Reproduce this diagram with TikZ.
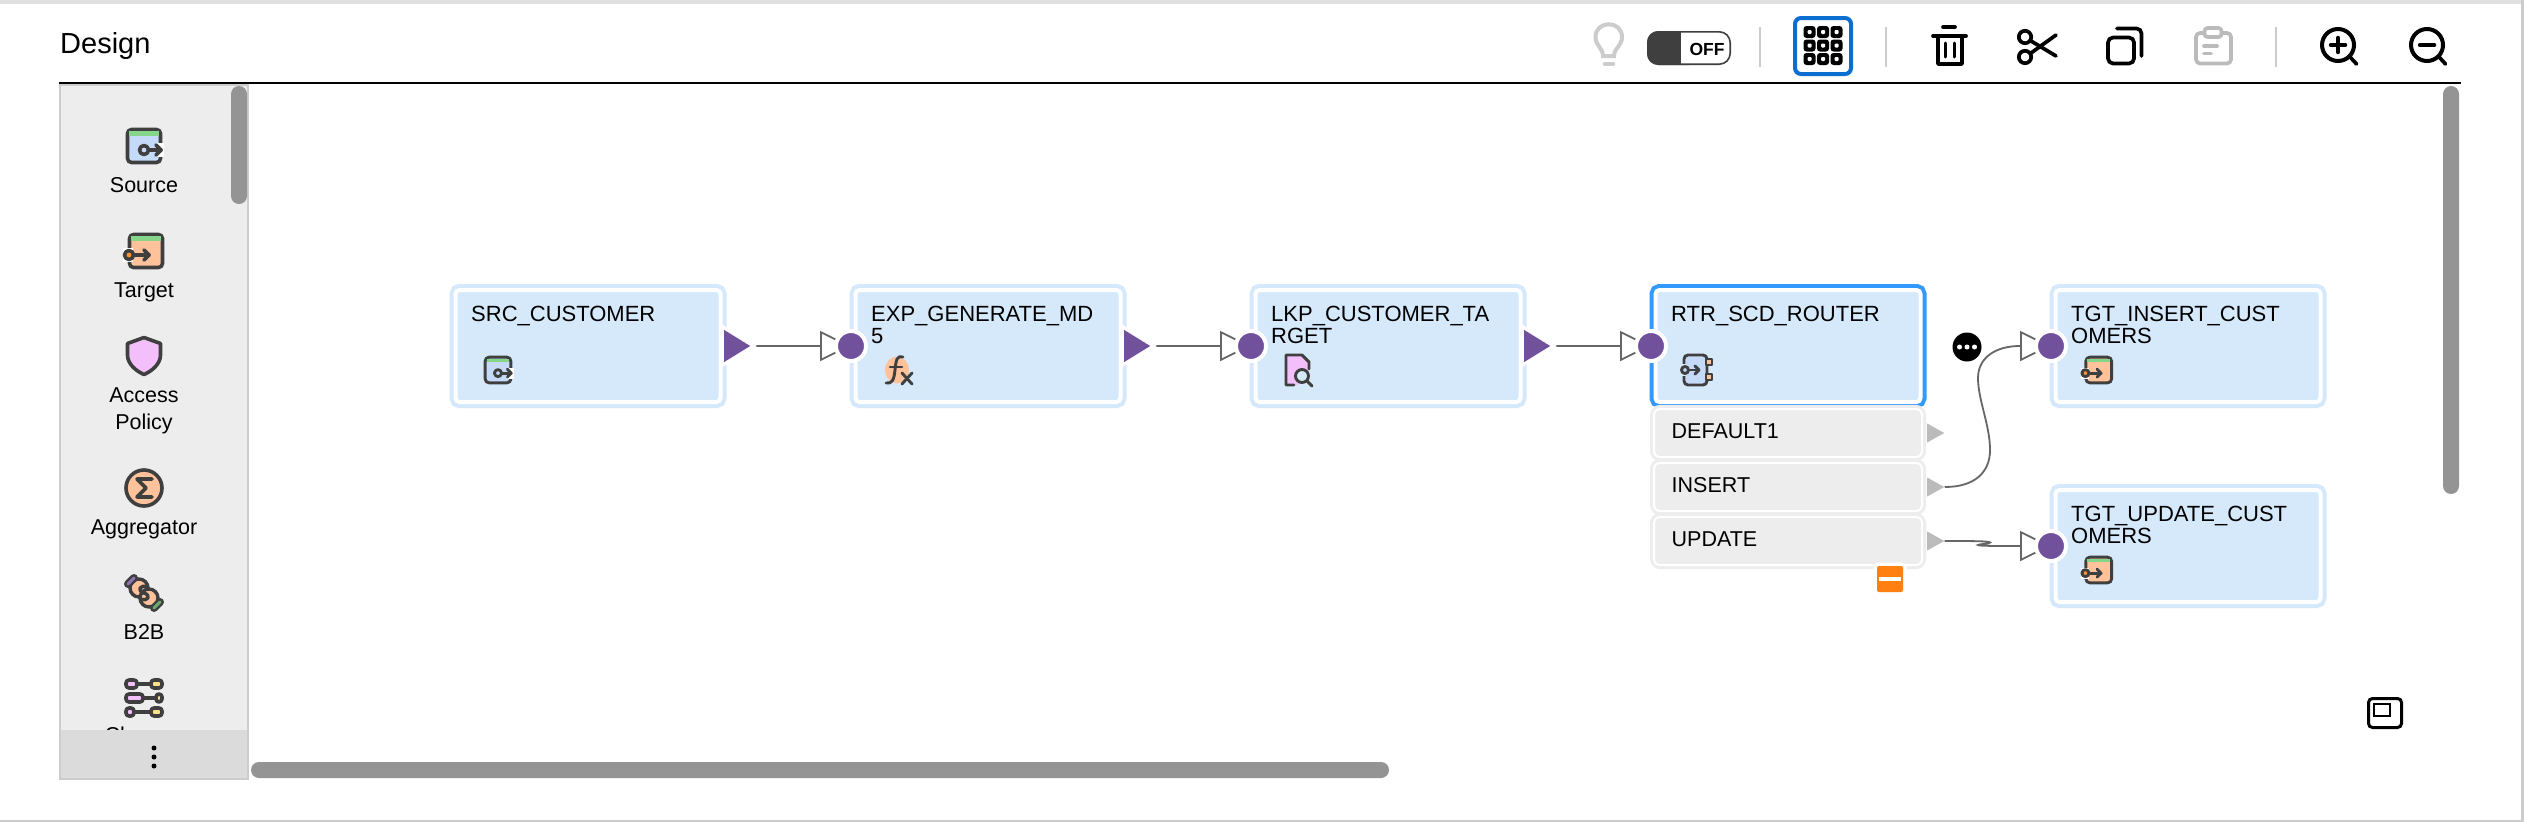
\documentclass[tikz,border=0pt]{standalone}
\usepackage{fontspec}
\setmainfont{Liberation Sans}
\usetikzlibrary{arrows.meta, backgrounds, shapes.geometric}

\definecolor{boxblue}{HTML}{D5E9FB}
\definecolor{selblue}{HTML}{3399FF}
\definecolor{btnblue}{HTML}{0A6FD0}
\definecolor{portpurple}{HTML}{71519C}
\definecolor{rowgray}{HTML}{EDEDED}
\definecolor{portgray}{HTML}{BBBBBB}
\definecolor{wiregray}{HTML}{666666}
\definecolor{scrollgray}{HTML}{949494}
\definecolor{icondark}{HTML}{3F3F3F}
\definecolor{iconblue}{HTML}{C5DAF9}
\definecolor{iconpeach}{HTML}{FFC29B}
\definecolor{icongreen}{HTML}{85D68B}
\definecolor{iconpink}{HTML}{F2BFFA}
\definecolor{iconyellow}{HTML}{FFE08A}
\definecolor{minusorange}{HTML}{FF8010}

\tikzset{
  iconwidth/.store in=\iconlw, iconwidth=3.5pt,
  nodebox/.style={rectangle, draw=white, line width=4pt, fill=boxblue, rounded corners=4pt,
    minimum width=265pt, minimum height=112pt, inner sep=0pt, preaction={draw=#1, line width=12pt}},
  nodebox/.default=boxblue,
  rowbox/.style={rectangle, draw=white, line width=2pt, fill=rowgray, rounded corners=6pt,
    minimum width=268pt, minimum height=48pt, inner sep=0pt, preaction={draw=rowgray, line width=8pt}},
  boxlabel/.style={anchor=north west, align=left, inner sep=0pt, font=\fontsize{22pt}{22pt}\selectfont},
  rowlabel/.style={anchor=base west, inner sep=0pt, font=\fontsize{21.5pt}{22pt}\selectfont},
  panellabel/.style={anchor=north, align=center, inner sep=0pt, font=\fontsize{21.5pt}{27pt}\selectfont},
  portin/.style={circle, fill=portpurple, draw=white, line width=4pt, minimum size=30pt, inner sep=0pt},
  portout/.style={isosceles triangle, isosceles triangle stretches, shape border rotate=0, anchor=lower side,
    minimum width=32pt, minimum height=26pt, inner sep=0pt, fill=portpurple, preaction={draw=white, line width=7pt}},
  portrow/.style={isosceles triangle, isosceles triangle stretches, shape border rotate=0, anchor=lower side,
    minimum width=19pt, minimum height=17pt, inner sep=0pt, fill=portgray},
  wire/.style={draw=wiregray, line width=1.8pt, shorten <=5pt, -{Triangle[open, fill=white, length=31pt, width=30pt]}},
  iconline/.style={draw=icondark, line width=\iconlw, line join=round, line cap=round},
  toolline/.style={draw=black, line width=3.7pt, line join=round, line cap=round},
  toolgray/.style={draw=portgray, line width=3.7pt, line join=round, line cap=round},
  srcicon/.pic={
    \draw[iconline, fill=iconblue, rounded corners=4pt] (-16.5,-16.5) rectangle (16.5,16.5);
    \fill[icongreen] (-14.7,-14.7) rectangle (14.7,-10.4);
    \fill[white] (13,-3) rectangle (20,11);
    \draw[iconline] (5,4) -- (17,4);
    \draw[iconline] (12,-1) -- (17,4) -- (12,9);
    \draw[iconline, fill=iconblue] (0,4) circle (4.5);
  },
  tgticon/.pic={
    \draw[iconline, fill=iconpeach, rounded corners=4pt] (-16.5,-16.5) rectangle (16.5,16.5);
    \fill[icongreen] (-14.7,-14.7) rectangle (14.7,-10.4);
    \fill[white] (-23,-3) rectangle (-13,11);
    \draw[iconline] (-12,4) -- (3,4);
    \draw[iconline] (-2,-1) -- (3,4) -- (-2,9);
    \draw[iconline, fill=orange!70!iconpeach] (-17,4) circle (4.5);
  },
  fxicon/.pic={
    \fill[iconpeach] (-1,0) ellipse (12 and 13.5);
    \draw[iconline] (5,-13) .. controls (-1,-15) and (-2,-10) .. (-3,0) .. controls (-4,10) and (-6,14) .. (-12,13);
    \draw[iconline] (-8,-3) -- (4,-3);
    \draw[iconline] (4,3) -- (14,14);
    \draw[iconline] (14,3) -- (4,14);
  },
  lkpicon/.pic={
    \fill[iconpink] (-12,-15) -- (4,-15) -- (11,-8) -- (11,0) -- (0,15) -- (-12,15) -- cycle;
    \draw[iconline] (-4,15) -- (-12,15) -- (-12,-15) -- (4,-15) -- (11,-8) -- (11,-1);
    \draw[iconline, fill=boxblue] (4,6) circle (6.5);
    \draw[iconline] (9,11) -- (14,16);
  },
  rtricon/.pic={
    \draw[iconline, fill=iconblue, rounded corners=4pt] (-13,-15) rectangle (10,15);
    \fill[boxblue] (-18,-6) rectangle (-11,6);
    \draw[iconline, fill=iconpeach] (9,-11) rectangle (15,-5);
    \draw[iconline, fill=iconpeach] (9,4) rectangle (15,10);
    \draw[iconline] (-8,0) -- (2,0);
    \draw[iconline] (-2,-4) -- (2,0) -- (-2,4);
    \draw[iconline, fill=iconblue] (-12,0) circle (3.5);
  },
  shieldicon/.pic={
    \draw[iconline, fill=iconpink] (0,-18.5) -- (16.5,-12.5) -- (16.5,-1) .. controls (16.5,8) and (8,15) .. (0,18.5)
      .. controls (-8,15) and (-16.5,8) .. (-16.5,-1) -- (-16.5,-12.5) -- cycle;
  },
  aggicon/.pic={
    \draw[iconline, fill=iconpeach] (0,0) circle (18);
    \draw[iconline] (8,-9) -- (-7,-9) -- (2,0) -- (-7,9) -- (8,9);
  },
  b2bicon/.pic={
    \draw[iconline, fill=iconpeach] (-5,-5) circle (9);
    \draw[iconline, fill=iconpeach] (5,5) circle (9);
    \draw[iconline] (4,-6) .. controls (-5,-9) and (-7,-2) .. (0,0) .. controls (7,2) and (5,9) .. (-4,6);
    \draw[icondark, line width=8pt, line cap=round] (-16,-9) -- (-10,-15);
    \draw[icondark, line width=8pt, line cap=round] (10,15) -- (16,9);
    \draw[portpurple!80!white, line width=3pt, line cap=round] (-16,-9) -- (-10,-15);
    \draw[icongreen!80!black, line width=3pt, line cap=round] (10,15) -- (16,9);
  },
  chainicon/.pic={
    \draw[iconline] (-14,-14) -- (14,-14);
    \draw[iconline] (-14,0) -- (14,0);
    \draw[iconline] (-14,14) -- (14,14);
    \draw[iconline, fill=iconpink, rounded corners=3pt] (-18,-18) rectangle (-7,-10);
    \draw[iconline, fill=iconyellow, rounded corners=3pt] (7,-18) rectangle (18,-10);
    \draw[iconline, fill=iconpink, rounded corners=3pt] (-18,-4) rectangle (-1,4);
    \draw[iconline, fill=iconyellow, rounded corners=3pt] (12,-4) rectangle (18,4);
    \draw[iconline, fill=iconpink, rounded corners=3pt] (-18,10) rectangle (-10,18);
    \draw[iconline, fill=iconyellow, rounded corners=3pt] (7,10) rectangle (18,18);
  },
}

\begin{document}
\begin{tikzpicture}[x=1pt,y=-1pt]
\useasboundingbox (0,0) rectangle (2524,822);

% Page edges
\fill[black!12] (0,0) rectangle (2524,3.5);
\fill[black!20] (0,820) rectangle (2524,822);
\fill[black!20] (2520.5,0) rectangle (2524,822);

% Header
\node[anchor=base west, inner sep=0pt, font=\fontsize{29pt}{30pt}\selectfont] (design) at (60,53) {Design};
\draw[line width=2pt] (59,83) -- (2461,83);

% Scrollbars
\fill[scrollgray, rounded corners=8pt] (251,762) rectangle (1389,778);
\fill[scrollgray, rounded corners=8pt] (2443,86) rectangle (2459,494);

% Palette
\draw[draw=black!20, fill=rowgray, line width=2pt] (60,85) rectangle (248,779);
\fill[scrollgray, rounded corners=8pt] (231,86) rectangle (247,204);
\pic[iconwidth=3.6pt] at (144,146) {srcicon};
\node[panellabel] (source) at (144,177) {Source};
\pic[iconwidth=3.6pt] at (146,251) {tgticon};
\node[panellabel] (target) at (144,283) {Target};
\pic[iconwidth=3.6pt] at (144,356) {shieldicon};
\node[panellabel] (access) at (144,388) {Access\\Policy};
\pic[iconwidth=3.6pt] at (144,488) {aggicon};
\node[panellabel] (aggregator) at (144,519) {Aggregator};
\pic[iconwidth=3.4pt] at (144,593) {b2bicon};
\node[panellabel] (btob) at (144,624) {B2B};
\pic[iconwidth=3.6pt] at (144,698) {chainicon};
\node[panellabel] (cleanse) at (144,727) {Cleanse};
\fill[black!14] (61,730) rectangle (247,778);
\fill (154,748) circle (2.5);
\fill (154,757) circle (2.5);
\fill (154,766) circle (2.5);

% Toolbar
\draw[draw=black!20, line width=4pt, line cap=round] (1603,56) .. controls (1603,48) and (1595.5,46) .. (1595.5,37) .. controls (1595.5,20) and (1622,20) .. (1622,37) .. controls (1622,46) and (1614,48) .. (1614,56) -- cycle;
\draw[draw=black!20, line width=4.5pt, line cap=round] (1605,64) -- (1613,64);
\fill[icondark, rounded corners=11pt] (1647,31) rectangle (1700,65);
\fill[white] (1681,32) rectangle (1720,64);
\draw[icondark, line width=1.6pt, rounded corners=11pt] (1647.8,31.8) rectangle (1730.2,64.2);
\node[inner sep=0pt, font=\bfseries\fontsize{17.5pt}{18pt}\selectfont] (toggle) at (1707,49) {OFF};
\draw[black!20, line width=2pt] (1760,27) -- (1760,67);
\draw[black!20, line width=2pt] (1886,27) -- (1886,67);
\draw[black!20, line width=2pt] (2276,27) -- (2276,67);
\draw[btnblue, line width=4pt, rounded corners=6pt] (1795,18) rectangle (1851,74);
\foreach \gx in {1809.5,1823,1836.5}
  \foreach \gy in {32,45.5,59} {
    \fill[rounded corners=3pt] (\gx-6,\gy-6) rectangle (\gx+6,\gy+6);
    \fill[white, rounded corners=1pt] (\gx-2,\gy-2) rectangle (\gx+2,\gy+2);
  }
\draw[toolline] (1943,27) -- (1955,27);
\draw[toolline] (1933,36) -- (1966,36);
\draw[toolline] (1938,36) -- (1938,64) -- (1962,64) -- (1962,36);
\draw[toolline, line width=3pt] (1945.5,43) -- (1945.5,57);
\draw[toolline, line width=3pt] (1954,43) -- (1954,57);
\draw[toolline] (2025,37) circle (6.2);
\draw[toolline] (2025,57) circle (6.2);
\draw[toolline] (2031,41) -- (2056,56);
\draw[toolline] (2031,53) -- (2056,35);
\draw[toolline, rounded corners=5pt] (2108,37.5) rectangle (2134,63.5);
\draw[toolline, rounded corners=5pt] (2117,28.5) -- (2141.5,28.5) -- (2141.5,56);
\draw[toolgray, rounded corners=4pt] (2203,33) -- (2196,33) -- (2196,63.5) -- (2231,63.5) -- (2231,33) -- (2223,33);
\draw[toolgray, rounded corners=3pt] (2204.5,28) rectangle (2221.5,37);
\draw[toolgray] (2204,46) -- (2217,46);
\draw[toolgray] (2204,53.5) -- (2211,53.5);
\draw[toolline, line width=4pt] (2338,45) circle (16);
\draw[toolline] (2350,57) -- (2356.5,64);
\draw[toolline, line width=4.5pt] (2331,45) -- (2345,45);
\draw[toolline, line width=4.5pt] (2338,38) -- (2338,52);
\draw[toolline, line width=4pt] (2427,45) circle (16);
\draw[toolline] (2439,57) -- (2445.5,64);
\draw[toolline, line width=4.5pt] (2420,45) -- (2434,45);

% Mini map button
\draw[line width=3pt, rounded corners=4pt] (2368.5,698.5) rectangle (2401.5,727.5);
\draw[line width=2.5pt] (2374,704) rectangle (2390,716);

% Transformations
\node[nodebox] (src) at (588,346) {};
\node[nodebox] (exp) at (988,346) {};
\node[nodebox] (lkp) at (1388,346) {};
\node[nodebox=selblue] (rtr) at (1788,346) {};
\node[nodebox] (tgtins) at (2188,346) {};
\node[nodebox] (tgtupd) at (2188,546) {};
\node[boxlabel] (srctext) at (471,306) {SRC\_CUSTOMER};
\node[boxlabel] (exptext) at (871,306) {EXP\_GENERATE\_MD\\5};
\node[boxlabel] (lkptext) at (1271,306) {LKP\_CUSTOMER\_TA\\RGET};
\node[boxlabel] (rtrtext) at (1671,306) {RTR\_SCD\_ROUTER};
\node[boxlabel] (tgtinstext) at (2071,306) {TGT\_INSERT\_CUST\\OMERS};
\node[boxlabel] (tgtupdtext) at (2071,506) {TGT\_UPDATE\_CUST\\OMERS};
\pic[iconwidth=2.9pt, scale=.78] at (498,370) {srcicon};
\pic[iconwidth=2.9pt] at (898,370) {fxicon};
\pic[iconwidth=2.9pt] at (1298,370) {lkpicon};
\pic[iconwidth=2.9pt] at (1697,370) {rtricon};
\pic[iconwidth=2.9pt, scale=.78] at (2098.7,370) {tgticon};
\pic[iconwidth=2.9pt, scale=.78] at (2098.7,570) {tgticon};

% Router groups
\node[rowbox] (rowdefault) at (1788,433) {};
\node[rowbox] (rowinsert) at (1788,487) {};
\node[rowbox] (rowupdate) at (1788,541) {};
\node[rowlabel] (defaulttext) at (1671.5,438) {DEFAULT1};
\node[rowlabel] (inserttext) at (1671.5,492) {INSERT};
\node[rowlabel] (updatetext) at (1671.5,546) {UPDATE};
\node[rectangle, fill=minusorange, rounded corners=2pt, minimum size=26pt, inner sep=0pt, preaction={draw=white, line width=7pt}] (minus) at (1890,579) {};
\node[rectangle, fill=white, minimum width=22pt, minimum height=4pt, inner sep=0pt] (minusbar) at (minus) {};
\node[circle, fill=black, minimum size=29pt, inner sep=0pt] (more) at (1967,347) {};
\fill[white] (1959.5,347) circle (2.5);
\fill[white] (1967,347) circle (2.5);
\fill[white] (1974.5,347) circle (2.5);

% Ports
\node[portin] (expin) at (851,346) {};
\node[portin] (lkpin) at (1251,346) {};
\node[portin] (rtrin) at (1651,346) {};
\node[portin] (tgtinsin) at (2051,346) {};
\node[portin] (tgtupdin) at (2051,546) {};
\node[portout] (srcout) at (724,346) {};
\node[portout] (expout) at (1124,346) {};
\node[portout] (lkpout) at (1524,346) {};
\node[portrow] (defaultout) at (1927,433) {};
\node[portrow] (insertout) at (1927,487) {};
\node[portrow] (updateout) at (1927,541) {};

% Connectors
\begin{scope}[on background layer]
\fill[white] (0,0) rectangle (2524,822);
\draw[wire] (srcout.apex) -- (expin.center);
\draw[wire] (expout.apex) -- (lkpin.center);
\draw[wire] (lkpout.apex) -- (rtrin.center);
\draw[wire, shorten <=0pt] (insertout.apex) .. controls (1975,487) and (1990,472) .. (1990,450) .. controls (1990,425) and (1978,400) .. (1978,378) .. controls (1978,358) and (1995,346) .. (2020,346) -- (tgtinsin.center);
\draw[wire, shorten <=0pt] (updateout.apex) .. controls (1970,541) and (1990,541) .. (1990,542.5) .. controls (1990,544) and (1978,544) .. (1978,545) .. controls (1978,546) and (1995,546) .. (2020,546) -- (tgtupdin.center);
\end{scope}

\end{tikzpicture}
\end{document}
